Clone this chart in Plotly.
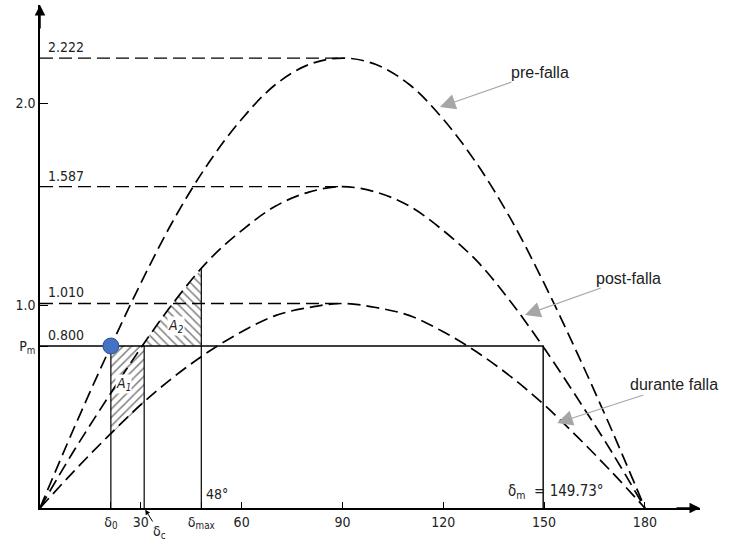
import plotly.graph_objects as go

# ---------------- data ----------------
delta_deg = [0, 10, 20, 30, 40, 50, 60, 70, 80, 90, 100, 110, 120, 130, 140, 150, 160, 170, 180]
p_pre = [0, 0.39, 0.76, 1.11, 1.43, 1.70, 1.92, 2.09, 2.19, 2.222, 2.19, 2.09, 1.92, 1.70, 1.43, 1.11, 0.76, 0.39, 0]
p_post = [0, 0.28, 0.54, 0.79, 1.02, 1.22, 1.37, 1.49, 1.56, 1.587, 1.56, 1.49, 1.37, 1.22, 1.02, 0.79, 0.54, 0.28, 0]
p_during = [0, 0.18, 0.35, 0.51, 0.65, 0.77, 0.87, 0.95, 0.99, 1.010, 0.99, 0.95, 0.87, 0.77, 0.65, 0.51, 0.35, 0.18, 0]

peak_labels = ["2.222", "1.587", "1.010"]
peak_values = [2.222, 1.587, 1.010]
pm = 0.800
pm_label = "0.800"

delta0 = 21.09
delta_c = 31.0
delta_max = 48.0
delta_m = 149.73
p_at_delta_max = 1.18

# hatched areas
a1_delta = [21.09, 25, 28, 31.0]
a1_lower = [0.36, 0.43, 0.47, 0.52]
a2_delta = [30.27, 34, 38, 42, 45, 48.0]
a2_upper = [0.80, 0.89, 0.98, 1.06, 1.12, 1.18]

x_tickvals = [delta0, 30, delta_max, 60, 90, 120, 150, 180]
x_ticktext = ["δ<sub>0</sub>", "30", "δ<sub>max</sub>", "60", "90", "120", "150", "180"]
y_tickvals = [pm, 1.0, 2.0]
y_ticktext = ["P<sub>m</sub>", "1.0", "2.0"]

curve_names = ["pre-falla", "post-falla", "durante falla"]

# ---------------- figure ----------------
XMAX = 196.4
YMAX = 2.484
dash = "13px,6px"
FONT = "DejaVu Sans Condensed, DejaVu Sans"
tick_font = dict(family=FONT, size=14, color="#222")

fig = go.Figure()

# hatched areas
fig.add_trace(go.Scatter(
    x=[delta0, delta_c] + a1_delta[::-1], y=[pm, pm] + a1_lower[::-1],
    mode="lines", fill="toself", line=dict(width=0), fillcolor="white",
    fillpattern=dict(shape="/", fgcolor="black", bgcolor="white", size=6, solidity=0.25),
    hoverinfo="skip", showlegend=False))
fig.add_trace(go.Scatter(
    x=a2_delta + [delta_max], y=a2_upper + [pm],
    mode="lines", fill="toself", line=dict(width=0), fillcolor="white",
    fillpattern=dict(shape="\\", fgcolor="black", bgcolor="white", size=6, solidity=0.25),
    hoverinfo="skip", showlegend=False))

# power-angle curves
for vals, name in zip([p_pre, p_post, p_during], curve_names):
    fig.add_trace(go.Scatter(x=delta_deg, y=vals, mode="lines", name=name,
                             line=dict(color="black", width=1.7, dash=dash, shape="spline"),
                             hoverinfo="skip", showlegend=False))

# dashed horizontal lines to the peaks
for v in peak_values:
    fig.add_trace(go.Scatter(x=[0, 90], y=[v, v], mode="lines",
                             line=dict(color="black", width=1.3, dash=dash),
                             hoverinfo="skip", showlegend=False))

# Pm line and verticals
fig.add_trace(go.Scatter(x=[0, delta_m, delta_m], y=[pm, pm, 0], mode="lines",
                         line=dict(color="black", width=1.4), hoverinfo="skip", showlegend=False))
for d, top in [(delta0, pm), (delta_c, pm), (delta_max, p_at_delta_max)]:
    fig.add_trace(go.Scatter(x=[d, d], y=[0, top], mode="lines",
                             line=dict(color="black", width=1.2), hoverinfo="skip", showlegend=False))

# operating point
fig.add_trace(go.Scatter(x=[delta0], y=[pm], mode="markers",
                         marker=dict(size=16, color="#4472C4", line=dict(color="#2F528F", width=1)),
                         hoverinfo="skip", showlegend=False, cliponaxis=False))

ann = []
# axis arrowheads
ann.append(dict(x=XMAX, y=0, ax=-25, ay=0, xref="x", yref="y", text="", showarrow=True,
                arrowhead=2, arrowsize=1.4, arrowwidth=1.5, arrowcolor="black"))
ann.append(dict(x=0, y=YMAX, ax=0, ay=25, xref="x", yref="y", text="", showarrow=True,
                arrowhead=2, arrowsize=1.4, arrowwidth=1.5, arrowcolor="black"))
ann.append(dict(x=200.5, y=-0.055, xref="x", yref="y", text="δ", showarrow=False,
                font=dict(family=FONT, size=14, color="#222")))
ann.append(dict(x=-3.6, y=2.44, xref="x", yref="y", text="P<sub>e</sub>", showarrow=False,
                font=dict(family=FONT, size=14, color="#222")))

# peak value labels
for lab, v in zip(peak_labels + [pm_label], peak_values + [pm]):
    ann.append(dict(x=1.8, y=v, xref="x", yref="y", text=lab, showarrow=False,
                    xanchor="left", yanchor="bottom", yshift=1,
                    font=dict(family=FONT, size=14, color="#222")))

# angle labels
ann.append(dict(x=48.8, y=0.07, xref="x", yref="y", text="48°", showarrow=False,
                xanchor="left", font=dict(family=FONT, size=14, color="#222")))
ann.append(dict(x=153.4, y=0.08, xref="x", yref="y", text="δ<sub>m</sub>  = 149.73°", showarrow=False,
                font=dict(family=FONT, size=15, color="#222")))
ann.append(dict(x=delta_c, y=0, xref="x", yref="y", ax=15, ay=24, text="δ<sub>c</sub>", showarrow=True,
                arrowhead=2, arrowsize=1, arrowwidth=1, arrowcolor="black", standoff=2,
                font=dict(family=FONT, size=14, color="#222")))

# area labels
ann.append(dict(x=24.7, y=0.61, xref="x", yref="y", text="<i>A<sub>1</sub></i>", showarrow=False,
                bgcolor="white", borderpad=0, font=dict(family=FONT, size=14, color="#222")))
ann.append(dict(x=40.6, y=0.90, xref="x", yref="y", text="<i>A<sub>2</sub></i>", showarrow=False,
                bgcolor="white", borderpad=0, font=dict(family=FONT, size=14, color="#222")))

# curve name labels with grey arrows
for name, (tx, ty, ax, ay) in zip(curve_names, [(119.0, 1.98, 100, -35),
                                                (144.3, 0.953, 104, -37),
                                                (153.9, 0.42, 117, -38)]):
    ann.append(dict(x=tx, y=ty, xref="x", yref="y", ax=ax, ay=ay, text=name, showarrow=True,
                    arrowhead=2, arrowsize=2.6, arrowwidth=1.2, arrowcolor="#a6a6a6",
                    font=dict(family="Liberation Sans", size=16, color="#222")))

fig.update_layout(
    width=731, height=548,
    margin=dict(l=40, r=31, t=5, b=40),
    paper_bgcolor="white", plot_bgcolor="white",
    showlegend=False,
    annotations=ann,
    xaxis=dict(range=[0, XMAX], showline=True, linecolor="black", linewidth=1.5,
               ticks="inside", ticklen=6, tickcolor="black", tickwidth=1.2,
               tickvals=x_tickvals, ticktext=x_ticktext, tickfont=tick_font,
               showgrid=False, zeroline=False, fixedrange=True),
    yaxis=dict(range=[0, YMAX], showline=True, linecolor="black", linewidth=1.5,
               ticks="inside", ticklen=8, tickcolor="black", tickwidth=1.2,
               tickvals=y_tickvals, ticktext=y_ticktext, tickfont=tick_font,
               showgrid=False, zeroline=False, fixedrange=True),
)

fig.write_html("out.html", config={"displayModeBar": False},
               post_script="document.body.style.margin='0px';")
